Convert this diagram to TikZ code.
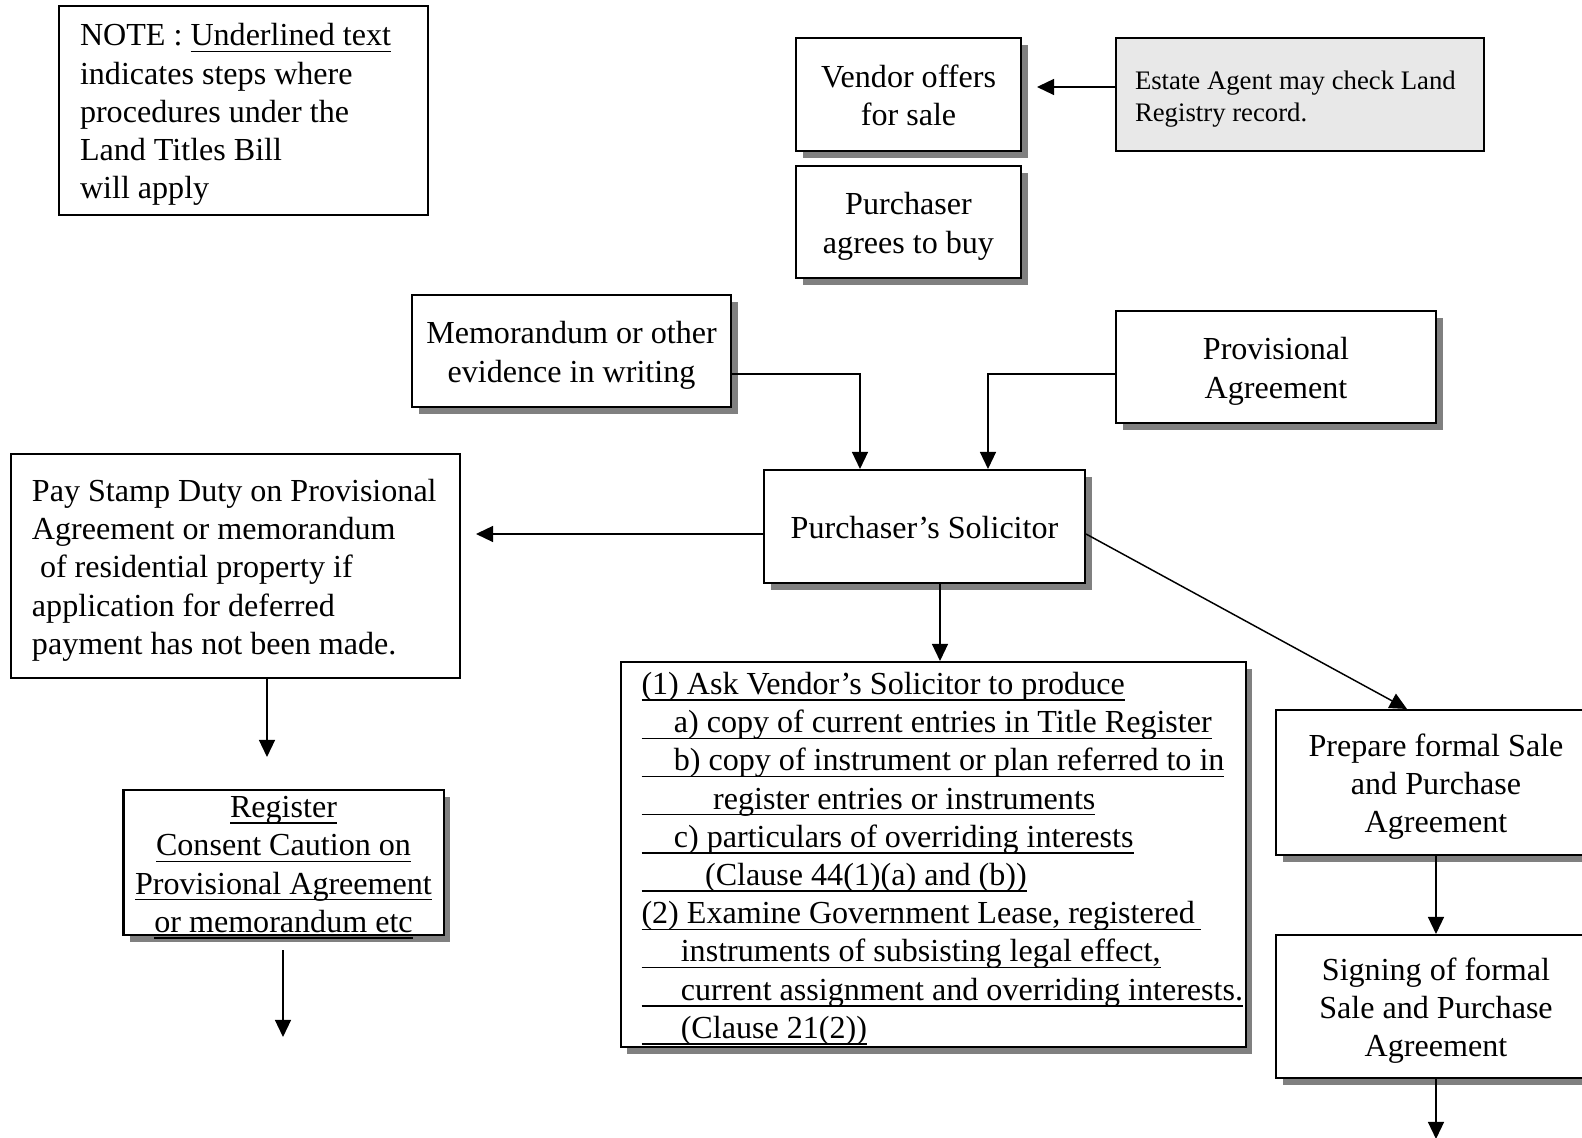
\documentclass[tikz,border=0pt]{standalone}
\usepackage{fontspec}
\setmainfont{Liberation Serif}
\usetikzlibrary{arrows.meta,shadows}
\newsavebox\ulbox
\newcommand\ulx[1]{\leavevmode\sbox\ulbox{#1}\rlap{\rule[-2.4pt]{\wd\ulbox}{0.55pt}}\usebox\ulbox}
\newcommand\stt{\rule{0pt}{11.6pt}}
\newcommand\stb{\rule[-2.7pt]{0pt}{2.7pt}}
\newcommand\sst{\rule{0pt}{10.35pt}}
\newcommand\ssb{\rule[-1.65pt]{0pt}{1.65pt}}
\begin{document}
\begin{tikzpicture}[x=0.374pt,y=-0.374pt,
  box/.style={draw,line width=0.75pt,fill=white,inner sep=0pt,align=center,
    font=\fontsize{12pt}{14.3pt}\selectfont},
  shad/.style={drop shadow={shadow xshift=2.6pt,shadow yshift=-2.6pt,fill=black!50,opacity=1}},
  sz/.style 2 args={minimum width=#1*0.374pt,minimum height=#2*0.374pt},
  lbox/.style={box,align=flush left,inner xsep=7.85pt,text width=#1*0.374pt},
  arr/.style={-{Triangle[length=6.4pt,width=6pt]},line width=0.55pt}]
\fill[white] (0,0) rectangle (1582,1138);
\useasboundingbox (0,0) rectangle (1582,1138);

% nodes
\node[lbox=327,sz={369}{209}] (note) at (243.5,110.5)
  {\stt NOTE : \ulx{Underlined text}\\indicates steps where\\procedures under the\\Land Titles Bill\\will apply\stb};
\node[box,shad,sz={225}{113}] (vendor) at (908.5,94.5) {\stt Vendor offers\\for sale\stb};
\node[lbox=330,sz={368}{113},inner xsep=7.1pt,fill=black!9,font=\fontsize{10pt}{12pt}\selectfont] (estate) at (1300,94.5)
  {\sst\mbox{Estate Agent may check Land}\\\mbox{Registry record.}\ssb};
\node[box,shad,sz={225}{112}] (purch) at (908.5,222) {\stt Purchaser\\agrees to buy\stb};
\node[box,shad,sz={319}{112}] (memo) at (571.5,351) {\stt Memorandum or other\\evidence in writing\stb};
\node[box,shad,sz={320}{112}] (prov) at (1276,367) {\stt Provisional\\Agreement\stb};
\node[box,shad,sz={321}{113}] (sol) at (924.5,526.5) {\stt Purchaser’s Solicitor\stb};
\node[lbox=407,sz={449}{224}] (pay) at (235.5,566)
  {\stt\mbox{Pay Stamp Duty on Provisional}\\\mbox{Agreement or memorandum}\\\mbox{\hspace*{3pt}of residential property if}\\\mbox{application for deferred}\\\mbox{payment has not been made.}\stb};
\node[box,shad,sz={320}{145},inner ysep=-1.6pt] (reg) at (283.5,863)
  {\stt\ulx{Register}\\\ulx{Consent Caution on}\\\ulx{Provisional Agreement}\\\ulx{or memorandum etc}\stb};
\node[lbox=583,shad,sz={625}{385}] (steps) at (933,854.5)
  {\stt\ulx{(1) Ask Vendor’s Solicitor to produce}\\
   \ulx{\hspace*{12.1pt}a) copy of current entries in Title Register}\\
   \ulx{\hspace*{12.1pt}b) copy of instrument or plan referred to in}\\
   \ulx{\hspace*{26.8pt}register entries or instruments}\\
   \ulx{\hspace*{12.1pt}c) particulars of overriding interests}\\
   \ulx{\hspace*{23.8pt}(Clause 44(1)(a) and (b))}\\
   \ulx{(2) Examine Government Lease, registered\hspace*{2.5pt}}\\
   \ulx{\hspace*{14.7pt}instruments of subsisting legal effect,}\\
   \ulx{\hspace*{14.7pt}current assignment and overriding interests.}\\
   \ulx{\hspace*{14.7pt}(Clause 21(2))}\stb};
\node[box,shad,sz={320}{145}] (prep) at (1436,782.5) {\stt Prepare formal Sale\\and Purchase\\Agreement\stb};
\node[box,shad,sz={320}{143}] (sign) at (1436,1006.5) {\stt Signing of formal\\Sale and Purchase\\Agreement\stb};

% helper coordinates
\coordinate (vtip) at (1037,87);
\coordinate (m1) at (860,374);
\coordinate (p1) at (988,374);
\coordinate (s1) at (476,534);
\coordinate (pd) at (267,757);
\coordinate (rd) at (283,1037);
\coordinate (b1) at (940,0);
\coordinate (q1) at (1407,0);
\coordinate (sg) at (1436,1139);

% connectors
\draw[arr] (estate.west |- vtip) -- (vtip);
\draw[arr] (memo.east |- m1) -| (sol.north -| m1);
\draw[arr] (prov.west |- p1) -| (sol.north -| p1);
\draw[arr] (sol.west |- s1) -- (s1);
\draw[arr] (pay.south -| pd) -- (pd);
\draw[arr,shorten <=5.2pt] (reg.south -| rd) -- (rd);
\draw[arr] (sol.south -| b1) -- (steps.north -| b1);
\draw[arr] (sol.east |- s1) -- (prep.north -| q1);
\draw[arr] (prep.south) -- (sign.north);
\draw[arr] (sign.south) -- (sg);
\end{tikzpicture}
\end{document}
